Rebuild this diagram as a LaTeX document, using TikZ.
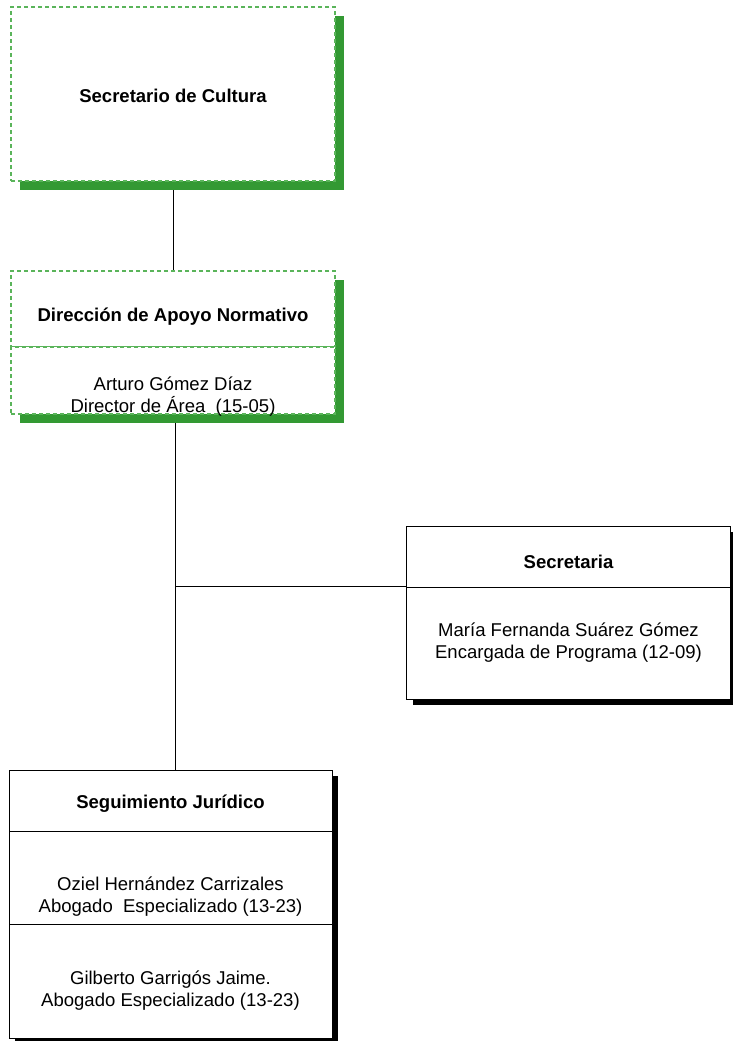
\documentclass[tikz,border=0pt]{standalone}
\usepackage{fontspec}
\setmainfont{Liberation Sans}
\usetikzlibrary{positioning,shadows}
\definecolor{dashgreen}{RGB}{90,180,90}
\definecolor{shadegreen}{RGB}{51,153,51}
\pgfdeclarelayer{back}
\pgfsetlayers{back,main}
\begin{document}
\begin{tikzpicture}[x=1bp,y=-1bp]
    \tikzstyle{greenbox}=[draw=dashgreen, dash pattern=on 4bp off 3bp, line width=1.1bp, fill=white, inner sep=0pt, minimum width=324bp,
        drop shadow={shadow xshift=9bp, shadow yshift=-9bp, fill=shadegreen, opacity=1}]
    \tikzstyle{blackbox}=[draw=black, line width=0.9bp, fill=white, inner sep=0pt, minimum width=324bp,
        drop shadow={shadow xshift=6bp, shadow yshift=-6bp, fill=black, opacity=1}]
    \tikzstyle{txt}=[anchor=base, align=center, inner sep=0pt, font=\fontsize{18.6}{21.5}\selectfont]
    \tikzstyle{title}=[txt, font=\fontsize{18.6}{21.5}\selectfont\bfseries]
    \tikzstyle{link}=[draw=black, line width=0.8bp]
    \useasboundingbox (0,0) rectangle (733,1041);
    % boxes
    \node[greenbox, minimum height=174bp] (cultura) at (173,94) {};
    \node[greenbox, minimum height=76bp] (dirhead) at (173,309) {};
    \node[greenbox, minimum height=67bp] (dirbody) at (173,380.5) {};
    \node[blackbox, minimum height=61bp] (sechead) at (568.5,556.5) {};
    \node[blackbox, minimum height=112bp] (secbody) at (568.5,643) {};
    \node[blackbox, minimum height=61bp, minimum width=323bp] (jurhead) at (170.5,800.5) {};
    \node[blackbox, minimum height=93bp, minimum width=323bp] (jurbodyA) at (170.5,877.5) {};
    \node[blackbox, minimum height=114bp, minimum width=323bp] (jurbodyB) at (170.5,981) {};
    % texts (base = last line)
    \node[title] (culturatxt) at (173,102) {Secretario de Cultura};
    \node[title] (dirheadtxt) at (173,321.5) {Dirección de Apoyo Normativo};
    \node[txt] (dirbodytxt) at (173,412) {Arturo Gómez Díaz\\Director de Área\ \ (15-05)};
    \node[title] (secheadtxt) at (568.5,568) {Secretaria};
    \node[txt] (secbodytxt) at (568.5,658) {María Fernanda Suárez Gómez\\Encargada de Programa (12-09)};
    \node[title] (jurheadtxt) at (170.5,808) {Seguimiento Jurídico};
    \node[txt] (jurbodyAtxt) at (170.5,912) {Oziel Hernández Carrizales\\Abogado\ \ Especializado (13-23)};
    \node[txt] (jurbodyBtxt) at (170.5,1006) {Gilberto Garrigós Jaime.\\Abogado Especializado (13-23)};
    % connectors
    \coordinate (fork) at (175,586.5);
    \begin{pgfonlayer}{back}
        \path[link] (cultura) -- (dirhead);
        \path[link] (dirbody.south -| fork) -- (jurhead.north -| fork);
        \path[link] (fork) -- (fork -| sechead.west);
    \end{pgfonlayer}
\end{tikzpicture}
\end{document}
